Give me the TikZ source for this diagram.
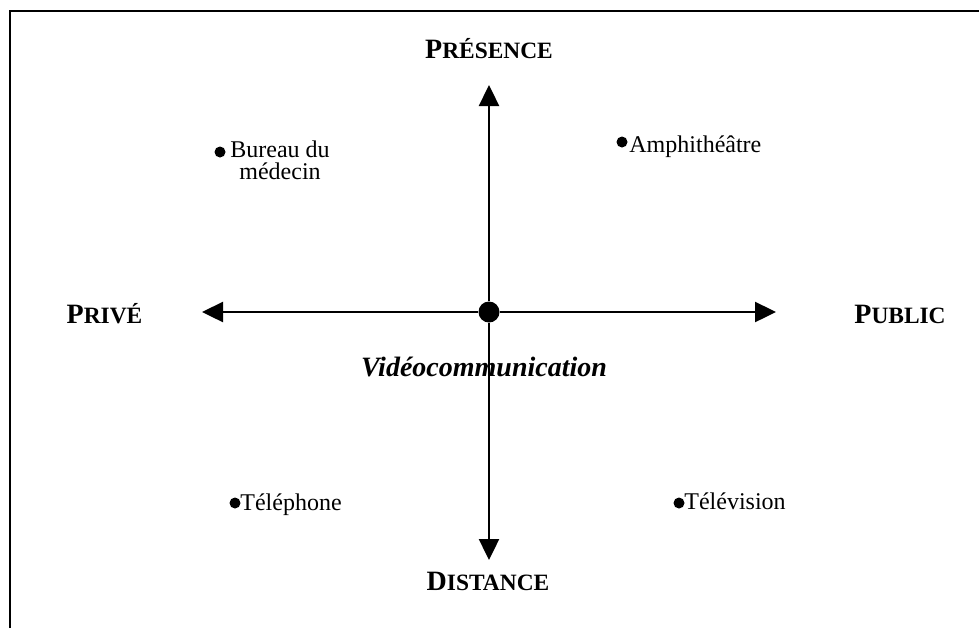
\documentclass[tikz,border=0pt]{standalone}
\usepackage{fontspec}
\setmainfont{Liberation Serif}
\usetikzlibrary{arrows.meta}
\tikzset{
  pic/.style={x=0.5pt,y=-0.5pt},
  axis/.style={line width=1.2pt,-{Triangle[length=10.5pt,width=10pt]}},
  smalldot/.style={circle,fill=black,inner sep=0pt,minimum size=5.5pt},
  bigdot/.style={circle,fill=black,inner sep=0pt,minimum size=10.5pt},
  lbl/.style={font=\fontsize{12}{12}\selectfont,inner sep=0pt},
  ttl/.style={font=\fontsize{14}{14}\selectfont\bfseries,inner sep=0pt,anchor=base},
}
\newcommand{\sck}[1]{{\fontsize{11.7}{11.7}\selectfont #1}}
\begin{document}
\begin{tikzpicture}[pic]
\useasboundingbox (0,0) rectangle (979,628);
\coordinate (fbl) at (10,628);
\coordinate (ftl) at (10,11);
\coordinate (ftr) at (979,11);
\draw[line width=1.3pt] (fbl) -- (ftl) -- (ftr);

\node[bigdot] (c) at (489,312) {};
\coordinate (w) at (202,312);
\coordinate (e) at (776,312);
\coordinate (n) at (489,85);
\coordinate (s) at (489,560);
\draw[axis] (c) -- (w);
\draw[axis] (c) -- (e);
\draw[axis] (c) -- (n);
\draw[axis] (c) -- (s);

\node[ttl] (pres) at (489,58) {P\sck{RÉSENCE}};
\node[ttl] (priv) at (104.5,323) {P\sck{RIVÉ}};
\node[ttl] (publ) at (900,323) {P\sck{UBLIC}};
\node[ttl] (dist) at (488,590) {D\sck{ISTANCE}};

\node[font=\fontsize{14}{14}\selectfont\bfseries\itshape,inner sep=0pt,anchor=base] (video) at (484,376) {Vidéocommunication};

\node[smalldot] (d1) at (220,152) {};
\node[lbl,align=center,anchor=north west] (t1) at (230,140) {Bureau du\\[-1pt]médecin};

\node[smalldot] (d2) at (622,142) {};
\node[lbl,anchor=base west] (t2) at (629,152) {Amphithéâtre};

\node[smalldot] (d3) at (235,503) {};
\node[lbl,anchor=base west] (t3) at (240,510) {Téléphone};

\node[smalldot] (d4) at (679,503) {};
\node[lbl,anchor=base west] (t4) at (684,509) {Télévision};
\end{tikzpicture}
\end{document}
